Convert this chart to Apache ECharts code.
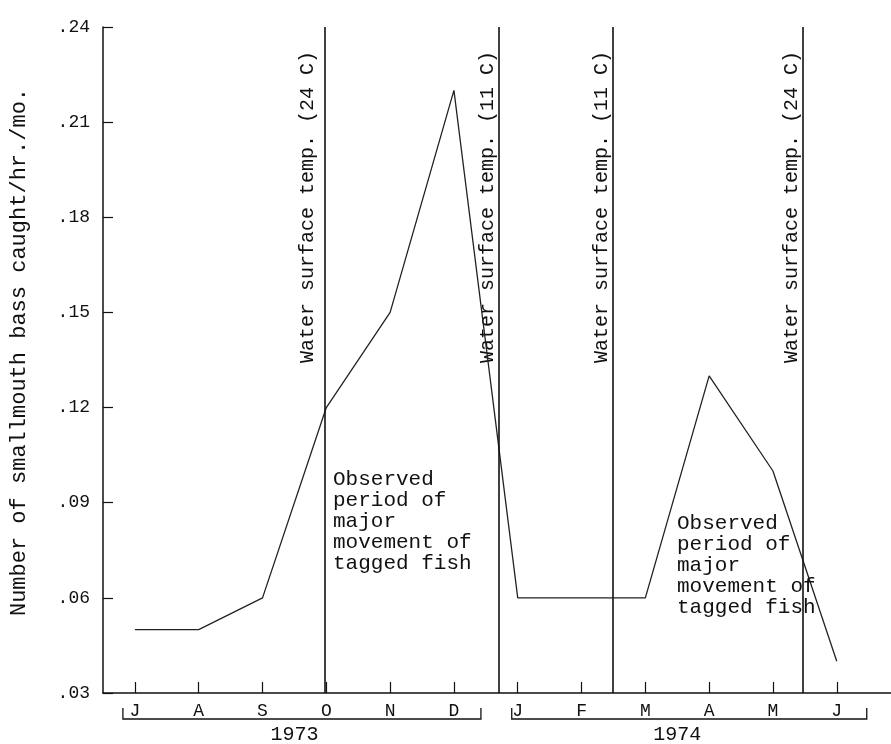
<!DOCTYPE html>
<html>
<head>
<meta charset="utf-8">
<script src="https://cdn.jsdelivr.net/npm/echarts@6/dist/echarts.min.js"></script>
<style>
  html, body { margin: 0; padding: 0; background: #fff; }
  #chart { width: 891px; height: 744px; }
</style>
</head>
<body>
<div id="chart"></div>
<script>
// months Jul 1973 - Jun 1974
var months = ['J', 'A', 'S', 'O', 'N', 'D', 'J', 'F', 'M', 'A', 'M', 'J'];
var monthIndex = [0, 1, 2, 3, 4, 5, 6, 7, 8, 9, 10, 11];
// bass caught / hr / month
var catchRate = [0.05, 0.05, 0.06, 0.12, 0.15, 0.22, 0.06, 0.06, 0.06, 0.13, 0.10, 0.04];
// water temperature marker lines (month position)
var tempLines = [2.97, 5.70, 7.49, 10.46];
var tempLabels = [
    'Water surface temp. (24 C)',
    'Water surface temp. (11 C)',
    'Water surface temp. (11 C)',
    'Water surface temp. (24 C)'
];
var years = ['1973', '1974'];
var noteText = 'Observed\nperiod of\nmajor\nmovement of\ntagged fish';

var mono = '"Liberation Mono", "DejaVu Sans Mono", monospace';
var chart = echarts.init(document.getElementById('chart'));

var option = {
    animation: false,
    grid: { left: 103, right: 0, top: 27, bottom: 51 },
    xAxis: {
        type: 'value',
        min: -0.5,
        max: 11.85,
        splitLine: { show: false },
        axisLine: { onZero: false, lineStyle: { color: '#111', width: 1.5 } },
        axisTick: {
            inside: true,
            length: 11,
            customValues: monthIndex,
            lineStyle: { color: '#111', width: 1.2 }
        },
        axisLabel: {
            customValues: monthIndex,
            margin: 9,
            color: '#111',
            fontFamily: mono,
            fontSize: 18,
            formatter: function (v) { return months[v]; }
        }
    },
    yAxis: {
        type: 'value',
        min: 0.03,
        max: 0.24,
        interval: 0.03,
        splitLine: { show: false },
        axisLine: { show: true, onZero: false, lineStyle: { color: '#111', width: 1.5 } },
        axisTick: { show: true, inside: true, length: 10, lineStyle: { color: '#111', width: 1.2 } },
        axisLabel: {
            margin: 13,
            color: '#111',
            fontFamily: mono,
            fontSize: 18,
            formatter: function (v) { return v.toFixed(2).replace(/^0/, ''); }
        }
    },
    series: [{
        type: 'line',
        data: monthIndex.map(function (m, i) { return [m, catchRate[i]]; }),
        symbol: 'none',
        lineStyle: { color: '#222', width: 1.3 },
        markLine: {
            silent: true,
            symbol: 'none',
            label: { show: false },
            lineStyle: { color: '#111', width: 1.6, type: 'solid' },
            data: tempLines.map(function (v) { return { xAxis: v }; })
        }
    }]
};
chart.setOption(option);

// annotations placed with the axis scale
function px(v) { return chart.convertToPixel({ xAxisIndex: 0 }, v); }
var textGap = [7, 1, 1, 1];
var graphics = [];

// y axis title
graphics.push({
    type: 'text', x: 19, y: 352, rotation: Math.PI / 2,
    style: {
        text: 'Number of smallmouth bass caught/hr./mo.',
        font: '22px ' + mono, fill: '#111',
        align: 'center', verticalAlign: 'middle'
    }
});

tempLines.forEach(function (v, i) {
    graphics.push({
        type: 'text', x: px(v) - textGap[i], y: 363, rotation: Math.PI / 2,
        style: {
            text: tempLabels[i], font: '20px ' + mono, fill: '#111',
            align: 'left', verticalAlign: 'bottom'
        }
    });
});

// observed period notes
[[333, 469], [677, 513]].forEach(function (p) {
    graphics.push({
        type: 'text', x: p[0], y: p[1],
        style: {
            text: noteText, font: '21px ' + mono, fill: '#111',
            lineHeight: 21, align: 'left', verticalAlign: 'top'
        }
    });
});

// year brackets
var spans = [[px(0) - 12, px(5) + 27], [px(6) - 6, px(11) + 30]];
spans.forEach(function (s, i) {
    graphics.push({
        type: 'polyline',
        shape: { points: [[s[0], 708], [s[0], 719], [s[1], 719], [s[1], 708]] },
        style: { stroke: '#111', lineWidth: 1.3, fill: null }
    });
    graphics.push({
        type: 'text', x: px(i === 0 ? 2.5 : 8.5), y: 735,
        style: {
            text: years[i], font: '20px ' + mono, fill: '#111',
            align: 'center', verticalAlign: 'middle'
        }
    });
});

chart.setOption({ graphic: graphics });
</script>
</body>
</html>
